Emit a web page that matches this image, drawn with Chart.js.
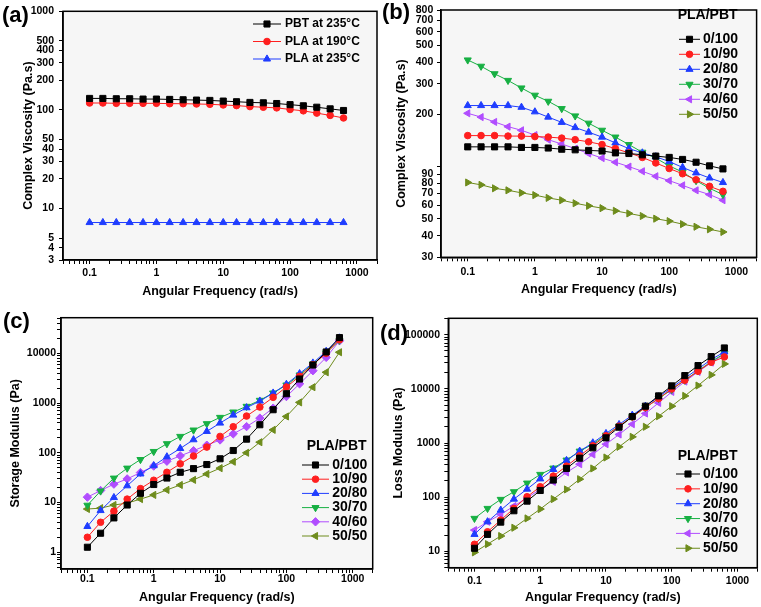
<!DOCTYPE html>
<html>
<head>
<meta charset="utf-8">
<script src="https://cdn.jsdelivr.net/npm/chart.js@4.4.0/dist/chart.umd.min.js"></script>
<style>
body { margin: 0; background: #fff; }
#wrap { position: relative; width: 761px; height: 607px; }
canvas { position: absolute; }
</style>
</head>
<body>
<div id="wrap">
  <canvas id="chartA" width="380" height="305" style="left:0;top:0"></canvas>
  <canvas id="chartB" width="381" height="305" style="left:380px;top:0"></canvas>
  <canvas id="chartC" width="380" height="302" style="left:0;top:305px"></canvas>
  <canvas id="chartD" width="381" height="302" style="left:380px;top:305px"></canvas>
</div>
<script>
// angular frequency (rad/s), shared by all four panels
const freq = [0.1, 0.158, 0.251, 0.398, 0.631, 1, 1.58, 2.51, 3.98, 6.31, 10, 15.8, 25.1, 39.8, 63.1, 100, 158, 251, 398, 631];

// (a) complex viscosity of the neat polymers (Pa.s)
const aLabels = ['PBT at 235°C', 'PLA at 190°C', 'PLA at 235°C'];
const pbt235 = [130.7, 130.7, 129.7, 129.7, 128.7, 128.7, 127.7, 126.7, 125.7, 124.7, 122.8, 121, 119, 118, 116, 113, 110, 106.4, 102.4, 98.6];
const pla190 = [117.4, 117.4, 116.5, 116.5, 116.5, 116.5, 115.6, 115.6, 114.8, 113.9, 112.2, 110.5, 108, 106.4, 104.8, 101, 97.8, 92.7, 87.9, 82.8];
const pla235 = [7.2, 7.2, 7.2, 7.2, 7.2, 7.2, 7.2, 7.2, 7.2, 7.2, 7.2, 7.2, 7.2, 7.2, 7.2, 7.2, 7.2, 7.2, 7.2, 7.2];

// PLA/PBT blend ratios for (b), (c), (d)
const legendTitle = 'PLA/PBT';
const blendLabels = ['0/100', '10/90', '20/80', '30/70', '40/60', '50/50'];

// (b) complex viscosity of the blends (Pa.s)
const visc0_100 = [130, 130, 130, 130, 129, 129, 128, 126, 125, 124, 123, 120, 119, 117, 115, 113, 110, 106, 101, 97];
const visc10_90 = [151, 151, 151, 150, 150, 149, 148, 146, 143, 139, 134, 127, 120, 113, 105, 97.5, 91, 84, 77, 72];
const visc20_80 = [225, 225, 225, 225, 220, 207, 193, 180, 168, 158, 148, 137, 127, 120, 114, 107, 99, 92, 86, 81];
const visc30_70 = [412, 379, 343, 314, 284, 258, 238, 216, 196, 178, 162, 148, 134, 121, 112, 101, 93, 83, 75, 69];
const visc40_60 = [203, 193, 181, 170, 162, 152, 143, 135, 127, 119, 112, 106, 100, 94, 88, 83, 78, 73, 69, 64];
const visc50_50 = [81, 78.5, 75, 73, 70.6, 68.5, 66, 64, 61.5, 59.4, 57.6, 55.6, 53.7, 51.9, 50.1, 48.5, 46.6, 45, 43.5, 42];

// (c) storage modulus (Pa)
const stor0_100 = [1.26, 2.41, 4.9, 8.9, 15.3, 23, 31, 40.5, 48, 58, 75.7, 111, 188, 366, 734, 1540, 3040, 5820, 10640, 20700];
const stor10_90 = [2.0, 4.0, 6.7, 11.7, 19, 28, 40.5, 60, 86, 130, 213, 334, 547, 830, 1300, 2100, 3440, 5920, 10000, 18800];
const stor20_80 = [3.3, 6.9, 12.6, 21.7, 37.6, 55, 83, 122, 183, 269, 396, 573, 805, 1097, 1590, 2380, 3900, 6390, 10970, 20370];
const stor30_70 = [8.8, 17, 30.9, 49, 73, 106, 152, 213, 286, 384, 514, 659, 857, 1132, 1590, 2300, 3660, 6100, 10160, 18270];
const stor40_60 = [12.8, 17.4, 23.4, 29.8, 40, 54, 67.6, 86.7, 110, 142, 181, 240, 336, 497, 790, 1350, 2430, 4470, 8270, 17800];
const stor50_50 = [7.4, 7.7, 8.9, 9.7, 11.7, 14.2, 17.9, 22.5, 28.5, 37.5, 49, 66, 100, 163, 289, 537, 1030, 2080, 4150, 10500];

// (d) loss modulus (Pa)
const loss0_100 = [11.4, 20.6, 34.7, 56.2, 84.7, 133, 207, 339, 525, 815, 1245, 1960, 3080, 4780, 7400, 11320, 17550, 26840, 39280, 56800];
const loss10_90 = [13.5, 23, 37.8, 62, 102, 156, 245, 374, 580, 887, 1356, 2043, 3036, 4510, 6610, 9960, 14390, 21090, 30900, 38730];
const loss20_80 = [20.6, 35.2, 57.8, 92.2, 141, 218, 325, 476, 707, 1007, 1497, 2193, 3260, 4780, 7100, 10540, 15670, 23290, 34600, 47900];
const loss30_70 = [40.6, 62, 91, 126, 182, 263, 344, 483, 707, 951, 1394, 2043, 3036, 4510, 6610, 9690, 14390, 21380, 31800, 44670];
const loss40_60 = [24.7, 35.2, 48.1, 68.5, 97.6, 139, 192, 286, 407, 614, 951, 1435, 2223, 3500, 5500, 8770, 13600, 20500, 30500, 43400];
const loss50_50 = [9.6, 13.6, 19.2, 27.3, 40.6, 60.3, 92.2, 139, 215, 339, 540, 850, 1300, 1990, 3120, 4780, 7400, 11480, 18070, 28800];

// tick labels
const freqTickLabels = [0.1, 1, 10, 100, 1000];
const aYTicks = [3, 4, 5, 10, 20, 30, 40, 50, 100, 200, 300, 400, 500, 1000];
const bYTicks = [30, 40, 50, 60, 70, 80, 90, 100, 200, 300, 400, 500, 600, 700, 800];
const bYTickLabels = ['30', '40', '50', '60', '70', '80', '90', '', '200', '300', '400', '500', '600', '700', '800'];
const cYTickLabels = [1, 10, 100, 1000, 10000];
const dYTickLabels = [10, 100, 1000, 10000, 100000];

const FONT = "'Liberation Sans', Arial, sans-serif";
const colors = ['#000000', '#ff1f1f', '#1f3dff', '#17b043', '#b14dff', '#6e8c1c'];

// all k*10^e values between min and max (minor tick positions)
function decadeTicks(min, max) {
    const out = [];
    for (let e = -2; e <= 5; e++) {
        for (let k = 1; k <= 9; k++) {
            const v = +(k * Math.pow(10, e)).toPrecision(4);
            if (v >= min && v <= max) out.push(v);
        }
    }
    return out;
}

function labelsFor(ticks, labelled) {
    return ticks.map(v => {
        const hit = labelled.find(l => Math.abs(l - v) / l < 1e-6);
        return hit === undefined ? '' : String(hit);
    });
}

function logAxis(o) {
    const isX = o.axis === 'x';
    return {
        type: 'logarithmic',
        position: isX ? 'bottom' : 'left',
        bounds: 'data',
        min: o.min,
        max: o.max,
        afterBuildTicks: s => { s.ticks = o.ticks.map(v => ({ value: v })); },
        afterFit: s => { if (isX) s.height = o.size; else s.width = o.size; },
        ticks: {
            autoSkip: false, maxRotation: 0, minRotation: 0,
            padding: o.tickPad, color: '#000',
            font: { family: FONT, size: 10.5, weight: 'bold' },
            callback: (v, i) => o.labels[i]
        },
        grid: { drawOnChartArea: false, drawTicks: true, tickLength: 4, color: '#000', tickColor: '#000', tickWidth: 1 },
        border: { display: true, color: '#000', width: 1.5 },
        title: {
            display: true, text: o.title, color: '#000',
            font: { family: FONT, size: 12.5, weight: 'bold' },
            padding: o.titlePad
        }
    };
}

function freqAxis(size, tickPad, titleBottom) {
    const t = decadeTicks(0.04, 2000);
    return logAxis({ axis: 'x', min: 0.04, max: 2000, ticks: t, labels: labelsFor(t, freqTickLabels),
        size, tickPad, title: 'Angular Frequency (rad/s)', titlePad: { top: 0, bottom: titleBottom } });
}

function series(label, values, color, shape, rot, r) {
    return {
        label,
        data: values.map((v, i) => ({ x: freq[i], y: v })),
        borderColor: color, backgroundColor: color, borderWidth: 1,
        pointStyle: shape, pointRotation: rot, pointRadius: r, pointHoverRadius: r,
        pointBackgroundColor: color, pointBorderColor: color, pointBorderWidth: 1,
        tension: 0, fill: false
    };
}

function drawMarker(ctx, style, x, y, r, rot, color) {
    ctx.save();
    ctx.translate(x, y);
    ctx.rotate((rot || 0) * Math.PI / 180);
    ctx.fillStyle = color;
    ctx.strokeStyle = color;
    ctx.lineWidth = 1;
    ctx.beginPath();
    if (style === 'circle') {
        ctx.arc(0, 0, r, 0, Math.PI * 2);
    } else if (style === 'rect') {
        const s = r * Math.SQRT1_2;
        ctx.rect(-s, -s, 2 * s, 2 * s);
    } else if (style === 'rectRot') {
        ctx.moveTo(0, -r); ctx.lineTo(r, 0); ctx.lineTo(0, r); ctx.lineTo(-r, 0); ctx.closePath();
    } else {
        for (let k = 0; k < 3; k++) {
            const t = k * 2 * Math.PI / 3;
            if (k === 0) ctx.moveTo(Math.sin(t) * r, -Math.cos(t) * r);
            else ctx.lineTo(Math.sin(t) * r, -Math.cos(t) * r);
        }
        ctx.closePath();
    }
    ctx.fill();
    ctx.stroke();
    ctx.restore();
}

// plot background, frame, panel letter and Origin-style legend
const panelPlugin = {
    id: 'panel',
    beforeDraw(chart) {
        const { ctx, chartArea: a } = chart;
        ctx.save();
        ctx.fillStyle = '#f6f6f6';
        ctx.fillRect(a.left, a.top, a.right - a.left, a.bottom - a.top);
        ctx.restore();
    },
    afterDraw(chart, args, opts) {
        const { ctx, chartArea: a } = chart;
        ctx.save();
        ctx.strokeStyle = '#000';
        ctx.lineWidth = 1.5;
        ctx.strokeRect(a.left, a.top, a.right - a.left, a.bottom - a.top);

        ctx.fillStyle = '#000';
        ctx.textAlign = 'left';
        ctx.textBaseline = 'middle';
        ctx.font = `bold 22px ${FONT}`;
        ctx.fillText(opts.tag, opts.tagX, opts.tagY);

        const lg = opts.legend;
        ctx.font = `bold ${lg.size}px ${FONT}`;
        if (lg.title) ctx.fillText(lg.title, lg.titleX, lg.titleY);
        chart.data.datasets.forEach((ds, i) => {
            const ry = lg.y + i * lg.step;
            ctx.strokeStyle = ds.borderColor;
            ctx.lineWidth = 1;
            ctx.beginPath();
            ctx.moveTo(lg.x0, ry);
            ctx.lineTo(lg.x1, ry);
            ctx.stroke();
            drawMarker(ctx, ds.pointStyle, (lg.x0 + lg.x1) / 2, ry, ds.pointRadius, ds.pointRotation, ds.borderColor);
            ctx.fillStyle = '#000';
            ctx.fillText(ds.label, lg.tx, ry);
        });
        ctx.restore();
    }
};

function makeChart(id, datasets, xAxis, yAxis, pad, panelOpts) {
    return new Chart(document.getElementById(id), {
        type: 'line',
        data: { datasets },
        options: {
            responsive: false,
            animation: false,
            events: [],
            layout: { padding: pad, autoPadding: false },
            scales: { x: xAxis, y: yAxis },
            plugins: { legend: { display: false }, tooltip: { enabled: false }, panel: panelOpts }
        },
        plugins: [panelPlugin]
    });
}

// marker shapes: [style, rotation, radius]
const blendMarks = [['rect', 0, 4.3], ['circle', 0, 3.3], ['triangle', 0, 4.1], ['triangle', 180, 4.1], ['triangle', 270, 4.1], ['triangle', 90, 4.1]];
const storMarks = [['rect', 0, 4.3], ['circle', 0, 3.3], ['triangle', 0, 4.1], ['triangle', 180, 4.1], ['rectRot', 0, 4.2], ['triangle', 270, 4.1]];

function blendSets(arrays, marks) {
    return arrays.map((vals, i) => series(blendLabels[i], vals, colors[i], marks[i][0], marks[i][1], marks[i][2]));
}

window.onload = () => {
    // (a)
    const aSets = [pbt235, pla190, pla235].map((vals, i) =>
        series(aLabels[i], vals, colors[i], blendMarks[i][0], blendMarks[i][1], blendMarks[i][2]));
    makeChart('chartA', aSets,
        freqAxis(45, 3, 5.8),
        logAxis({ axis: 'y', min: 3, max: 1000, ticks: aYTicks, labels: aYTicks.map(String), size: 63, tickPad: 5,
            title: 'Complex Viscosity (Pa.s)', titlePad: { top: 20.8, bottom: 0 } }),
        { left: 0, top: 6, right: 3, bottom: 0 },
        { tag: '(a)', tagX: 2, tagY: 16,
          legend: { size: 12, x0: 253, x1: 281, tx: 285, y: 24, step: 17.5 } });

    // (b)
    makeChart('chartB', blendSets([visc0_100, visc10_90, visc20_80, visc30_70, visc40_60, visc50_50], blendMarks),
        freqAxis(47.7, 4.4, 7.8),
        logAxis({ axis: 'y', min: 30, max: 800, ticks: bYTicks, labels: bYTickLabels, size: 61, tickPad: 3.7,
            title: 'Complex Viscosity (Pa.s)', titlePad: { top: 13.8, bottom: 0 } }),
        { left: 0, top: 9.3, right: 3.5, bottom: 0 },
        { tag: '(b)', tagX: 2, tagY: 13,
          legend: { size: 14, title: legendTitle, titleX: 297.7, titleY: 15, x0: 299, x1: 320, tx: 323, y: 39.3, step: 15 } });

    // (c)
    const cTicks = decadeTicks(0.46, 52000);
    makeChart('chartC', blendSets([stor0_100, stor10_90, stor20_80, stor30_70, stor40_60, stor50_50], storMarks),
        freqAxis(38, 0.3, 1.5),
        logAxis({ axis: 'y', min: 0.46, max: 52000, ticks: cTicks, labels: labelsFor(cTicks, cYTickLabels), size: 61, tickPad: 1,
            title: 'Storage Modulus (Pa)', titlePad: { top: 7.8, bottom: 0 } }),
        { left: 0, top: 12.7, right: 7.3, bottom: 0 },
        { tag: '(c)', tagX: 3, tagY: 17,
          legend: { size: 14, title: legendTitle, titleX: 306.7, titleY: 140.7, x0: 302, x1: 329, tx: 332.3, y: 160, step: 14.2 } });

    // (d)
    const dTicks = decadeTicks(5, 200000);
    makeChart('chartD', blendSets([loss0_100, loss10_90, loss20_80, loss30_70, loss40_60, loss50_50], blendMarks),
        freqAxis(39.3, 3, 1.5),
        logAxis({ axis: 'y', min: 5, max: 200000, ticks: dTicks, labels: labelsFor(dTicks, dYTickLabels), size: 68.3, tickPad: 4.3,
            title: 'Loss Modulus (Pa)', titlePad: { top: 10.8, bottom: 0 } }),
        { left: 0, top: 13.3, right: 3.7, bottom: 0 },
        { tag: '(d)', tagX: 0, tagY: 29,
          legend: { size: 14, title: legendTitle, titleX: 297.7, titleY: 151, x0: 296, x1: 320, tx: 323, y: 169, step: 14.85 } });
};
</script>
</body>
</html>
